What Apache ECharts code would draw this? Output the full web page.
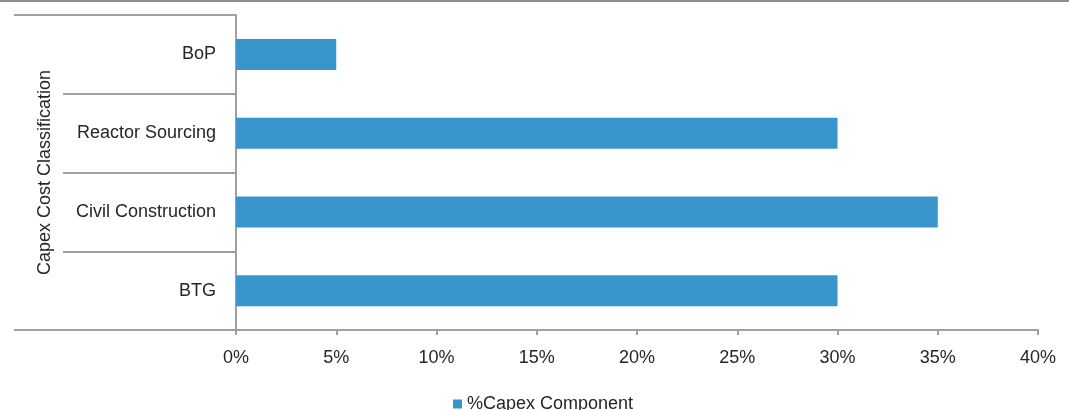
<!DOCTYPE html>
<html>
<head>
<meta charset="utf-8">
<script src="https://cdn.jsdelivr.net/npm/echarts@6/dist/echarts.min.js"></script>
<style>
  html, body { margin: 0; padding: 0; background: #ffffff; }
  #chart { width: 1069px; height: 410px; }
</style>
</head>
<body>
<div id="chart"></div>
<script>
// Capex cost split by classification (bottom to top on the axis)
const categories = ['BTG', 'Civil Construction', 'Reactor Sourcing', 'BoP'];
const capexShare = [30, 35, 30, 5];
const seriesName = '%Capex Component';
const axisTitle = 'Capex Cost Classification';
const xMin = 0, xMax = 40, xStep = 5;

const gray = '#a0a0a4';
const textColor = '#262626';
const font = 'Liberation Sans, Arial, Helvetica, sans-serif';

const chart = echarts.init(document.getElementById('chart'), null, { renderer: 'canvas' });

chart.setOption({
  animation: false,
  backgroundColor: '#ffffff',
  textStyle: { fontFamily: font },
  grid: { left: 236, right: 31, top: 15, bottom: 80, containLabel: false },
  legend: {
    data: [seriesName],
    left: 448,
    top: 390,
    itemWidth: 9,
    itemHeight: 9,
    itemGap: 5,
    icon: 'rect',
    textStyle: { fontSize: 18, color: textColor, fontFamily: font }
  },
  xAxis: {
    type: 'value',
    min: xMin,
    max: xMax,
    interval: xStep,
    splitLine: { show: false },
    axisLine: { show: true, lineStyle: { color: gray, width: 2 } },
    axisTick: { show: true, length: 5, lineStyle: { color: gray, width: 2 } },
    axisLabel: {
      formatter: v => v + '%',
      fontSize: 18,
      color: textColor,
      margin: 19,
      fontFamily: font
    }
  },
  yAxis: [
    {
      type: 'category',
      data: categories,
      position: 'left',
      axisLine: { show: true, lineStyle: { color: gray, width: 2 } },
      axisTick: { show: true, length: 173, interval: 0, lineStyle: { color: gray, width: 2 } },
      axisLabel: { fontSize: 18, color: textColor, margin: 20, fontFamily: font },
      name: axisTitle,
      nameLocation: 'middle',
      nameRotate: 90,
      nameGap: 182,
      nameTextStyle: { fontSize: 18, color: textColor, fontFamily: font }
    },
    {
      // outer group bracket: top and bottom edges spanning the full label column
      type: 'category',
      data: [''],
      position: 'left',
      axisLine: { show: false },
      axisTick: { show: true, length: 222, interval: 0, lineStyle: { color: gray, width: 2 } },
      axisLabel: { show: false },
      splitLine: { show: false }
    }
  ],
  series: [
    {
      name: seriesName,
      type: 'bar',
      yAxisIndex: 0,
      data: capexShare,
      barWidth: 31,
      itemStyle: { color: '#3996cc' }
    }
  ],
  graphic: [
    {
      type: 'line',
      shape: { x1: 0, y1: 1, x2: 1069, y2: 1 },
      style: { stroke: '#8f8f8f', lineWidth: 2 },
      silent: true
    }
  ]
});
</script>
</body>
</html>
